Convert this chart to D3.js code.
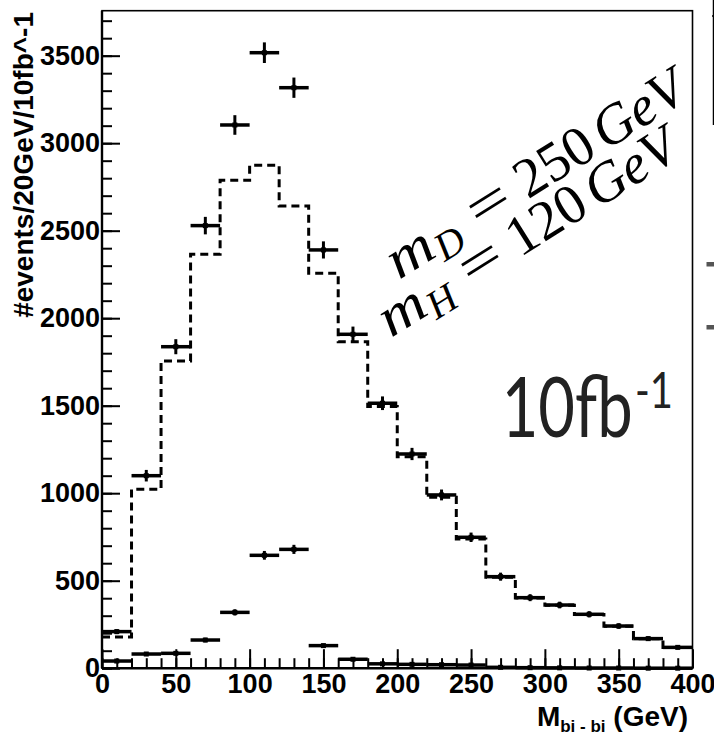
<!DOCTYPE html>
<html><head><meta charset="utf-8">
<script src="https://cdn.jsdelivr.net/npm/d3@7"></script>
<style>body{margin:0;background:#fff} svg{display:block}</style>
</head><body>
<svg id="c" width="714" height="733"></svg>
<script>
// ---- data ----
const binCenters = [10,30,50,70,90,110,130,150,170,190,210,230,250,270,290,310,330,350,370,390];
const binWidth = 20;
const totalEvents = [209,1100,1837,2529,3104,3517,3317,2390,1908,1514,1224,990,748,523,403,361,308,241,169,119];
const totalErrors = [14,33,43,50,56,59,58,49,44,39,35,31,27,23,20,19,18,16,13,11];
const backgroundEvents = [178,1022,1755,2365,2788,2874,2641,2257,1866,1495,1208,977,738,519,401,360,307,240,168,118];
const signalEvents = [41,81,85,161,319,645,679,129,51,25,22,20,18,5,3,2,1,1,0,0];
const signalErrors = [6,9,9,13,18,25,26,11,7,5,5,4,4,2,2,1,1,1,0,0];
const xTickValues = [0,50,100,150,200,250,300,350,400];
const yTickValues = [0,500,1000,1500,2000,2500,3000,3500];
const xMinorStep = 10, yMinorStep = 100;
const yTitle = "#events/20GeV/10fb^-1";
const xTitleMain = "M", xTitleSub = "bi - bi", xTitleUnit = " (GeV)";
const lumiMain = "10fb", lumiSup = "-1";
const massSymbols = ["m","m"], massSubs = ["D","H"], massValues = ["250","120"], massUnit = "GeV";

// ---- layout ----
const svg = d3.select("#c");
const X0 = 102, X1 = 692.5, Y0 = 668.2, Y1 = 10.7;
const x = d3.scaleLinear().domain([0,400]).range([X0,X1]);
const y = d3.scaleLinear().domain([0,3757]).range([Y0,Y1]);
const sans = "'Liberation Sans', Arial, Helvetica, sans-serif";

// minor x ticks
svg.append("g").attr("transform",`translate(0,${Y0})`)
  .call(d3.axisBottom(x).tickValues(d3.range(0,401,xMinorStep)).tickSize(-10).tickFormat(""))
  .call(g=>{g.select(".domain").remove(); g.selectAll("line").attr("stroke-width",2);});
// major x ticks
svg.append("g").attr("transform",`translate(0,${Y0})`)
  .call(d3.axisBottom(x).tickValues(xTickValues).tickSize(-19).tickPadding(6).tickFormat(d3.format("d")))
  .call(g=>{g.select(".domain").remove(); g.selectAll("line").attr("stroke-width",2);
    g.attr("font-family",sans).attr("font-size",27).attr("font-weight","bold");
    g.selectAll("text").attr("fill","#000");});
// minor y ticks
svg.append("g").attr("transform",`translate(${X0},0)`)
  .call(d3.axisLeft(y).tickValues(d3.range(0,3701,yMinorStep)).tickSize(-10).tickFormat(""))
  .call(g=>{g.select(".domain").remove(); g.selectAll("line").attr("stroke-width",2);});
// major y ticks
svg.append("g").attr("transform",`translate(${X0},0)`)
  .call(d3.axisLeft(y).tickValues(yTickValues).tickSize(-18).tickPadding(2).tickFormat(d3.format("d")))
  .call(g=>{g.select(".domain").remove(); g.selectAll("line").attr("stroke-width",2);
    g.attr("font-family",sans).attr("font-size",27).attr("font-weight","bold");
    g.selectAll("text").attr("fill","#000");});

// frame
svg.append("rect").attr("x",X0).attr("y",Y1).attr("width",X1-X0).attr("height",Y0-Y1)
  .attr("fill","none").attr("stroke","#000").attr("stroke-width",1.6);
svg.append("line").attr("x1",X0).attr("x2",X0).attr("y1",Y1).attr("y2",Y0).attr("stroke","#000").attr("stroke-width",2.4);
svg.append("line").attr("x1",X0).attr("x2",X1).attr("y1",Y0).attr("y2",Y0).attr("stroke","#000").attr("stroke-width",2.4);

// dashed background histogram
const stepPts = binCenters.map((c,i)=>[c-binWidth/2, backgroundEvents[i]]);
stepPts.push([binCenters[binCenters.length-1]+binWidth/2, backgroundEvents[backgroundEvents.length-1]]);
svg.append("path")
  .attr("d", d3.line().x(d=>x(d[0])).y(d=>y(d[1])).curve(d3.curveStepAfter)(stepPts))
  .attr("fill","none").attr("stroke","#000").attr("stroke-width",3).attr("stroke-dasharray","8,5");

// error-bar series
function drawSeries(vals, errs, cls){
  const g = svg.append("g").attr("class",cls);
  const d = binCenters.map((c,i)=>({c, v:vals[i], e:errs[i]}));
  g.selectAll("line.h").data(d).join("line").attr("class","h")
    .attr("x1",p=>x(p.c-binWidth/2)).attr("x2",p=>x(p.c+binWidth/2))
    .attr("y1",p=>y(p.v)).attr("y2",p=>y(p.v)).attr("stroke","#000").attr("stroke-width",3.5);
  g.selectAll("line.v").data(d).join("line").attr("class","v")
    .attr("x1",p=>x(p.c)).attr("x2",p=>x(p.c))
    .attr("y1",p=>y(p.v-p.e)).attr("y2",p=>y(p.v+p.e)).attr("stroke","#000").attr("stroke-width",3);
  g.selectAll("rect").data(d).join("rect")
    .attr("x",p=>x(p.c)-2.5).attr("y",p=>y(p.v)-2.5).attr("width",5).attr("height",5).attr("fill","#000");
}
drawSeries(totalEvents, totalErrors, "total");
drawSeries(signalEvents, signalErrors, "signal");

// axis titles
svg.append("text").attr("transform","translate(33,12) rotate(-90)").attr("text-anchor","end")
  .attr("font-family",sans).attr("font-weight","bold").attr("font-size",28).text(yTitle);
const xt = svg.append("text").attr("x",688).attr("y",726).attr("text-anchor","end")
  .attr("font-family",sans).attr("font-weight","bold").attr("font-size",28);
xt.append("tspan").text(xTitleMain);
xt.append("tspan").attr("font-size",17).attr("dy",6).text(xTitleSub);
xt.append("tspan").attr("dy",-6).text(xTitleUnit);

// luminosity label
const lum = svg.append("text").attr("font-family","Lato, 'Open Sans', sans-serif").attr("fill","#222");
lum.append("tspan").attr("x",501.7).attr("y",436.7).attr("font-size",83)
  .attr("textLength",131).attr("lengthAdjust","spacingAndGlyphs").text(lumiMain);
lum.append("tspan").attr("x",635).attr("y",408).attr("font-size",50)
  .attr("textLength",38).attr("lengthAdjust","spacingAndGlyphs").text(lumiSup);

// rotated mass labels (clipped at the frame)
svg.append("clipPath").attr("id","clipR").append("rect").attr("x",0).attr("y",0).attr("width",691).attr("height",733);
const massG = svg.append("g").attr("clip-path","url(#clipR)");
const starts = [[399,280],[391,338]];
const serif = "'Liberation Serif', 'DejaVu Serif', serif";
massSymbols.forEach((sym,i)=>{
  const g = massG.append("g").attr("transform",`translate(${starts[i][0]},${starts[i][1]}) rotate(-32)`)
    .attr("font-family",serif).attr("font-size",56).attr("fill","#000");
  g.append("text").attr("x",0).attr("y",0).attr("font-style","italic")
    .attr("textLength",47).attr("lengthAdjust","spacingAndGlyphs").text(sym);
  g.append("text").attr("x",48).attr("y",9).attr("font-style","italic").attr("font-size",40).text(massSubs[i]);
  g.append("text").attr("x",95).attr("y",0).attr("textLength",43).attr("lengthAdjust","spacingAndGlyphs").text("=");
  g.append("text").attr("x",152).attr("y",0).text(massValues[i]);
  g.append("text").attr("x",244).attr("y",0).attr("font-style","italic").text(massUnit);
});

// fragments of neighbouring panel at right edge
svg.append("line").attr("x1",713.5).attr("x2",713.5).attr("y1",0).attr("y2",125).attr("stroke","#000").attr("stroke-width",1.5);
svg.append("line").attr("x1",712).attr("x2",714).attr("y1",16).attr("y2",16).attr("stroke","#000").attr("stroke-width",1.5);
svg.append("rect").attr("x",706.5).attr("y",262).attr("width",8).attr("height",4.5).attr("fill","#555");
svg.append("rect").attr("x",706.5).attr("y",325).attr("width",8).attr("height",4.5).attr("fill","#555");
</script>
</body></html>
